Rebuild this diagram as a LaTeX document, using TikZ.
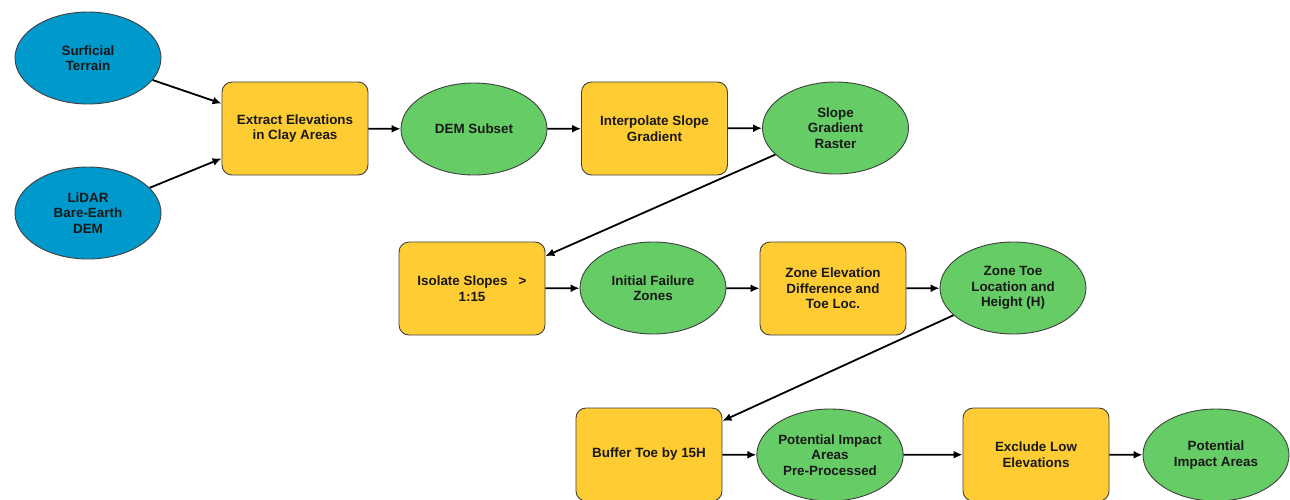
\documentclass[tikz,border=0pt]{standalone}
\usepackage{fontspec}
\setmainfont{Liberation Sans}
\usetikzlibrary{arrows.meta,shapes.geometric}
\definecolor{inblue}{RGB}{0,153,204}
\definecolor{dgreen}{RGB}{102,204,102}
\definecolor{tyellow}{RGB}{255,204,51}
\tikzset{
  base/.style={draw=black!75, line width=0.9pt, align=center, text=black!90,
    font=\fontsize{13.4}{15.5}\selectfont\bfseries, inner sep=0pt},
  indata/.style={base, ellipse, fill=inblue, minimum width=146pt, minimum height=92pt},
  ddata/.style={base, ellipse, fill=dgreen, minimum width=146pt, minimum height=92pt},
  tool/.style={base, rectangle, rounded corners=10pt, fill=tyellow, minimum width=146pt, minimum height=93pt},
  conn/.style={line width=1.8pt, black, -{Latex[length=9pt,width=8pt]}}
}
\begin{document}
\begin{tikzpicture}[x=1pt,y=-1pt]
\useasboundingbox (0,0) rectangle (1290,499);
\fill[white] (0,0) rectangle (1290,499);
\node[indata] (surf) at (88,58) {Surficial\\Terrain};
\node[indata] (lidar) at (88,213) {LiDAR\\Bare-Earth\\DEM};
\node[tool] (extract) at (295,128.5) {Extract Elevations\\in Clay Areas};
\node[ddata] (dem) at (474,129) {DEM Subset};
\node[tool] (interp) at (654.5,128.5) {Interpolate Slope\\Gradient};
\node[ddata] (sgr) at (835.5,128) {Slope\\Gradient\\Raster};
\node[tool] (iso) at (472,288.5) {Isolate Slopes\ \ \ >\\1:15};
\node[ddata] (ifz) at (653,288) {Initial Failure\\Zones};
\node[tool] (zed) at (833,288.5) {Zone Elevation\\Difference and\\Toe Loc.};
\node[ddata] (ztl) at (1013,288) {Zone Toe\\Location and\\Height (H)};
\node[tool] (buf) at (649,454.5) {Buffer Toe by 15H};
\node[ddata] (piapp) at (830,455) {Potential Impact\\Areas\\Pre-Processed};
\node[tool] (excl) at (1036,454.5) {Exclude Low\\Elevations};
\node[ddata] (pia) at (1216,455) {Potential\\Impact Areas};
\draw[conn] (surf) -- (extract);
\draw[conn] (lidar) -- (extract);
\draw[conn] (extract) -- (dem);
\draw[conn] (dem) -- (interp);
\draw[conn] (interp) -- (sgr);
\draw[conn] (sgr) -- (iso);
\draw[conn] (iso) -- (ifz);
\draw[conn] (ifz) -- (zed);
\draw[conn] (zed) -- (ztl);
\draw[conn] (ztl) -- (buf);
\draw[conn] (buf) -- (piapp);
\draw[conn] (piapp) -- (excl);
\draw[conn] (excl) -- (pia);
\end{tikzpicture}
\end{document}
